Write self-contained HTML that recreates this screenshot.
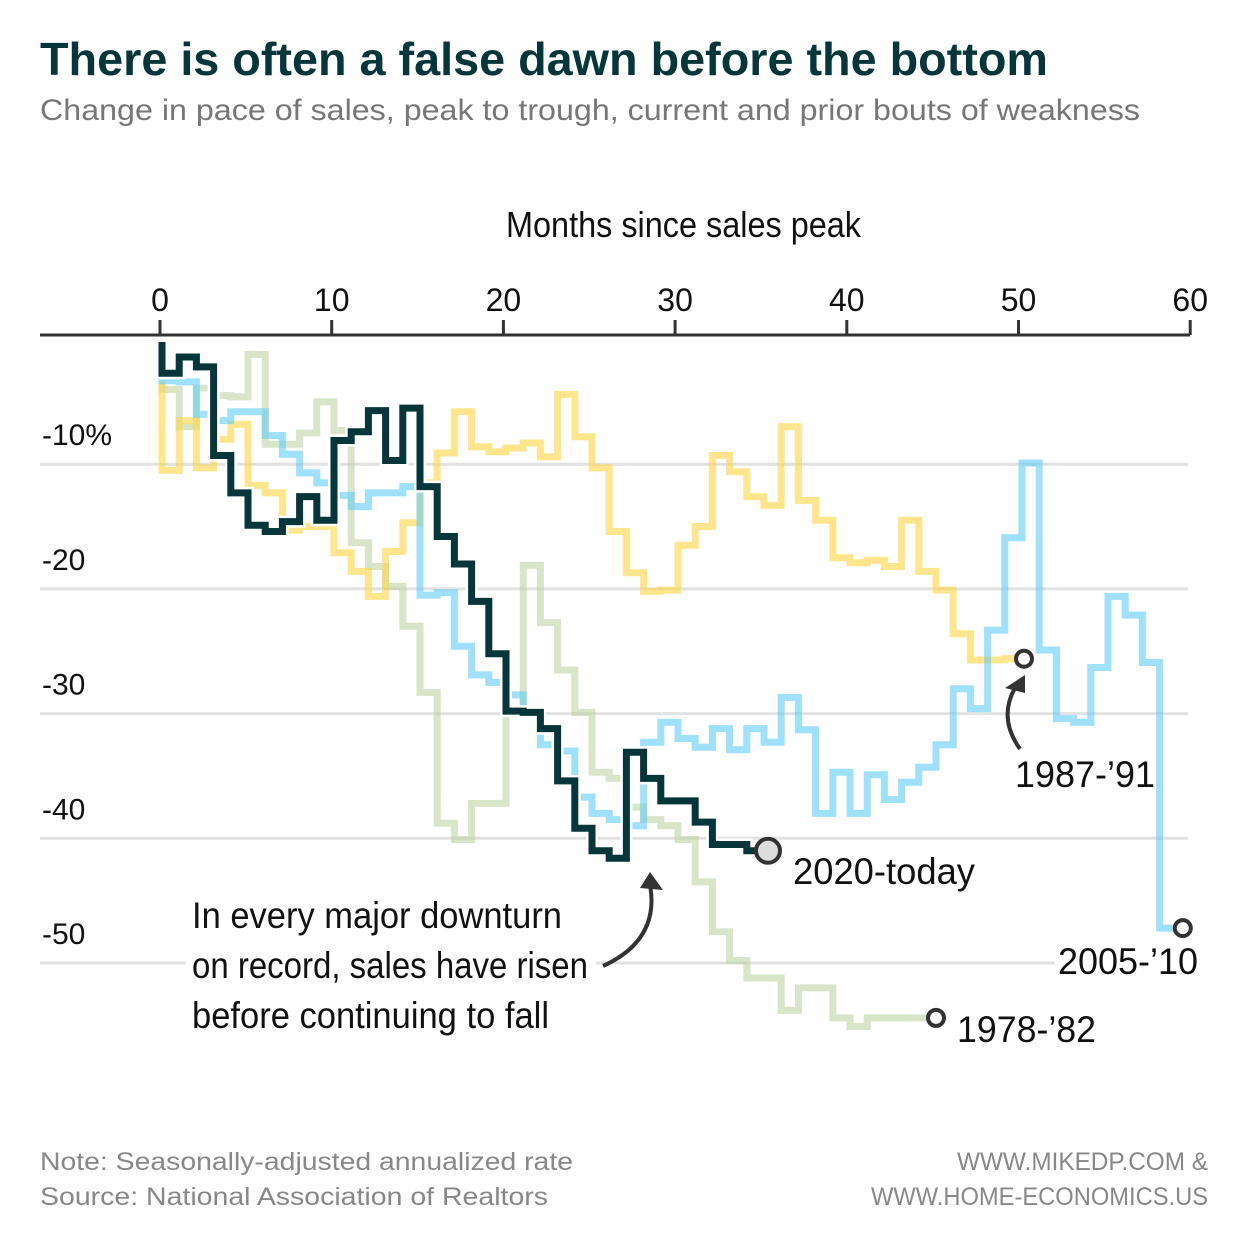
<!DOCTYPE html>
<html><head><meta charset="utf-8"><style>
html,body{margin:0;padding:0;background:#fff;width:1250px;height:1250px;overflow:hidden}
svg{display:block}
text{font-family:"Liberation Sans Narrow","Liberation Sans",sans-serif}
</style></head><body>
<svg id="chart" width="1250" height="1250" viewBox="0 0 1250 1250" xmlns="http://www.w3.org/2000/svg">
<text x="40" y="75" font-size="46" font-weight="bold" fill="#06363a" textLength="1008" lengthAdjust="spacingAndGlyphs" style="font-family:'Liberation Sans',sans-serif">There is often a false dawn before the bottom</text>
<text x="40" y="120" font-size="30" fill="#777" textLength="1100" lengthAdjust="spacingAndGlyphs" style="font-family:'Liberation Sans',sans-serif">Change in pace of sales, peak to trough, current and prior bouts of weakness</text>
<text x="506" y="237" font-size="36" fill="#111" textLength="355" lengthAdjust="spacingAndGlyphs">Months since sales peak</text>
<g id="grid"></g>
<g id="xaxis"></g>
<g id="ylabels"></g>
<g id="series"></g>
<g id="annot">
<rect x="186" y="885" width="410" height="150" fill="#fff"/>
<text x="192" y="928" font-size="37" fill="#111" textLength="370" lengthAdjust="spacingAndGlyphs">In every major downturn</text>
<text x="192" y="978" font-size="37" fill="#111" textLength="396" lengthAdjust="spacingAndGlyphs">on record, sales have risen</text>
<text x="192" y="1028" font-size="37" fill="#111" textLength="357" lengthAdjust="spacingAndGlyphs">before continuing to fall</text>
<path d="M603,966 Q660,940 650,885" fill="none" stroke="#333" stroke-width="4"/>
<polygon points="640,888 663,890 650,872" fill="#333"/>
<path d="M1020,749 Q998,718 1015,688" fill="none" stroke="#333" stroke-width="4"/>
<polygon points="1005,688 1025,693 1025,675" fill="#333"/>
<rect x="1055" y="940" width="150" height="36" fill="#fff"/>
<text x="793" y="884" font-size="37" fill="#111" textLength="182" lengthAdjust="spacingAndGlyphs">2020-today</text>
<text x="1015" y="787" font-size="37" fill="#111" textLength="140" lengthAdjust="spacingAndGlyphs">1987-’91</text>
<text x="1058" y="974" font-size="37" fill="#111" textLength="140" lengthAdjust="spacingAndGlyphs">2005-’10</text>
<text x="957" y="1042" font-size="37" fill="#111" textLength="139" lengthAdjust="spacingAndGlyphs">1978-’82</text>
</g>
<text x="40" y="1170" font-size="25" fill="#888" textLength="533" lengthAdjust="spacingAndGlyphs" style="font-family:'Liberation Sans',sans-serif">Note: Seasonally-adjusted annualized rate</text>
<text x="40" y="1205" font-size="25" fill="#888" textLength="508" lengthAdjust="spacingAndGlyphs" style="font-family:'Liberation Sans',sans-serif">Source: National Association of Realtors</text>
<text x="957" y="1170" font-size="25" fill="#888" textLength="251" lengthAdjust="spacingAndGlyphs">WWW.MIKEDP.COM &amp;</text>
<text x="871" y="1205" font-size="25" fill="#888" textLength="337" lengthAdjust="spacingAndGlyphs">WWW.HOME-ECONOMICS.US</text>
</svg>
<script>
const xTicks = [0, 10, 20, 30, 40, 50, 60];
const yTicks = [-10, -20, -30, -40, -50];
const yTickLabels = ["-10%", "-20", "-30", "-40", "-50"];
const start2020 = -0.2;
const series2020 = [-2.7,-1.4,-2.2,-9.3,-12.3,-14.9,-15.4,-14.6,-12.6,-14.5,-8.1,-7.4,-5.7,-9.7,-5.5,-11.8,-15.8,-18,-21,-25.2,-29.8,-29.9,-31.2,-35.4,-39.2,-41,-41.6,-33.1,-35.2,-37,-37,-38.7,-40.5,-40.5,-41];
const start1987 = -3.3;
const series1987 = [-10.5,-6.5,-10.3,-8,-6.8,-11.7,-12.3,-15.3,-15,-15,-17.1,-18.6,-20.6,-17,-14.7,-11.5,-9.1,-5.8,-8.6,-9,-8.7,-8.3,-9.4,-4.4,-7.8,-10.3,-15.4,-18.7,-20.2,-20.1,-16.5,-15,-9.3,-10.6,-12.6,-13.3,-7,-12.9,-14.5,-17.5,-17.9,-17.7,-18.2,-14.5,-18.6,-20.1,-23.6,-25.7,-25.7,-25.6];
const start2005 = -3;
const series2005 = [-3.3,-3.4,-6,-6.5,-5.8,-5.8,-7.7,-9.2,-10.7,-11.5,-12.5,-13.4,-12.3,-12.3,-11.8,-20.5,-20.3,-24.6,-26.9,-27.5,-28.5,-30,-32.5,-33,-36.7,-38,-38.5,-39,-32.3,-30.7,-32,-32.7,-31.2,-32.9,-31.2,-32.3,-28.7,-31.3,-38,-34.7,-38,-34.9,-36.9,-35.5,-34.3,-32.5,-28,-29.6,-23.3,-15.9,-9.9,-24.9,-30.4,-30.7,-26.3,-20.6,-22.1,-25.9,-47.2];
const start1978 = -3.5;
const series1978 = [-4,-7,-3.9,-4.5,-4.6,-1.2,-8.4,-8.4,-7.5,-5,-7.3,-16.3,-18.2,-19.8,-23,-28.3,-38.8,-40.1,-37.2,-37.2,-30,-18.1,-22.7,-26.5,-29.9,-34.7,-35.2,-37.5,-38.5,-39,-40.1,-43.5,-47.5,-49.8,-51.2,-51.2,-53.8,-52,-52,-54.4,-55.1,-54.4,-54.4,-54.4,-54.4];

const NS = "http://www.w3.org/2000/svg";
function xScale(m){ return 158 + m * 17.17; }
function stepX(i){ return 162 + i * 17.2; }
function yScale(v){ return 339.5 - v * 12.47; }
function mk(tag, attrs, parent){
  const el = document.createElementNS(NS, tag);
  for (const k in attrs) el.setAttribute(k, attrs[k]);
  parent.appendChild(el);
  return el;
}
const grid = document.getElementById('grid');
yTicks.forEach(function(t){
  const ln = mk('line', {x1:40, x2:1188, y1:yScale(t), y2:yScale(t), stroke:'#e2e2e2', 'stroke-width':3}, grid);
  
  
});
const yl = document.getElementById('ylabels');
yTicks.forEach(function(t, i){
  const tx = mk('text', {x:42, y:yScale(t)-19, 'font-size':30, fill:'#111'}, yl);
  tx.textContent = yTickLabels[i];
  
  
});
const xa = document.getElementById('xaxis');
const axl = mk('line', {x1:40, x2:1190, y1:335, y2:335, stroke:'#333', 'stroke-width':3}, xa);


xTicks.forEach(function(t){
  const tk = mk('line', {x1:xScale(t)+2, x2:xScale(t)+2, y1:320, y2:335, stroke:'#333', 'stroke-width':3}, xa);
  
  
  const tx = mk('text', {x:xScale(t)+2, y:311, 'font-size':32, fill:'#111', 'text-anchor':'middle'}, xa);
  tx.textContent = String(t);
  
  
});
function pathFor(start, vals){
  let d = 'M' + stepX(0) + ',' + yScale(start);
  vals.forEach(function(v, i){
    d += ' V' + yScale(v).toFixed(1) + ' H' + stepX(i+1).toFixed(1);
  });
  return d;
}
const sg = document.getElementById('series');
const p78 = mk('path', {d:pathFor(start1978, series1978), fill:'none', stroke:'#b9cf9c', 'stroke-width':7, opacity:0.55}, sg);


const p87 = mk('path', {d:pathFor(start1987, series1987), fill:'none', stroke:'#ffd640', 'stroke-width':7, opacity:0.6}, sg);


const p05 = mk('path', {d:pathFor(start2005, series2005), fill:'none', stroke:'#5fcdf7', 'stroke-width':7, opacity:0.6}, sg);


const h20 = mk('path', {d:pathFor(start2020, series2020), fill:'none', stroke:'#fff', 'stroke-width':12}, sg);


const p20 = mk('path', {d:pathFor(start2020, series2020), fill:'none', stroke:'#06363a', 'stroke-width':7}, sg);


function endMarker(vals, name, r, fill, dx){
  const n = vals.length;
  const c = mk('circle', {cx:stepX(n)+dx, cy:yScale(vals[n-1]), r:r, fill:fill, stroke:'#333', 'stroke-width':4}, sg);
  
  
}
endMarker(series1978, 'end-marker-1978-82', 8, '#fff', 0);
endMarker(series1987, 'end-marker-1987-91', 8, '#fff', 2);
endMarker(series2005, 'end-marker-2005-10', 8, '#fff', 6);
endMarker(series2020, 'end-marker-2020-today', 12, '#ddd', 4);
</script>
</body></html>
